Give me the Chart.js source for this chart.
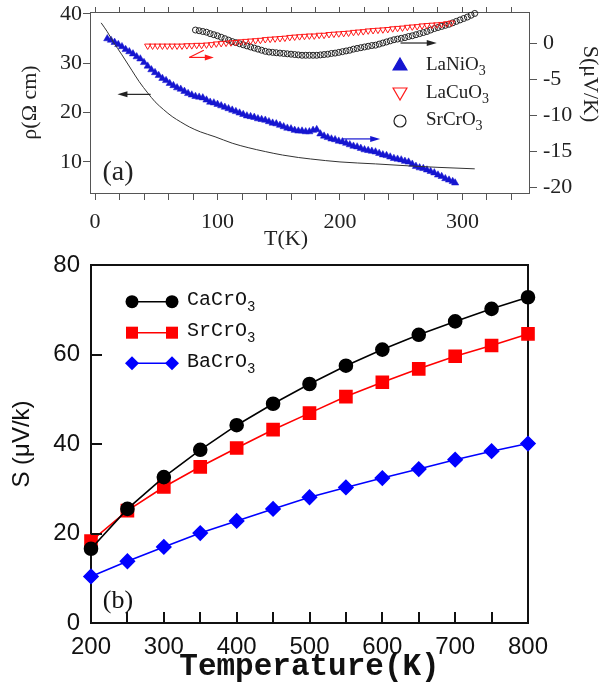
<!DOCTYPE html>
<html>
<head>
<meta charset="utf-8">
<script src="https://cdn.jsdelivr.net/npm/chart.js@4.4.1/dist/chart.umd.min.js"></script>
<style>
  html, body { margin: 0; padding: 0; background: #fff; }
  #wrap { position: relative; width: 603px; height: 686px; }
  #chartA { position: absolute; left: 0; top: 0; }
  #chartB { position: absolute; left: 0; top: 250px; }
</style>
</head>
<body>
<div id="wrap">
  <canvas id="chartA" width="603" height="250"></canvas>
  <canvas id="chartB" width="603" height="436"></canvas>
</div>
<script>
// ---- panel (a) data ----
const tRho = [5, 10, 15, 22, 30, 36, 43, 49, 56, 63, 70, 77, 86, 98, 112, 125, 139, 153, 166, 176, 200, 229, 256, 280, 310]
const rho = [38.2, 36.4, 34.3, 31.7, 28.6, 26.3, 24.0, 22.2, 20.6, 19.2, 18.1, 17.1, 16.1, 15.1, 13.8, 12.9, 12.1, 11.4, 10.9, 10.6, 10.0, 9.6, 9.2, 8.9, 8.6]

const tNi = [10, 13, 16, 19, 22, 25, 28, 31, 34, 37, 40, 43, 46, 49, 52, 55, 58, 61, 64, 67, 70, 73, 76, 79, 82, 85, 88, 91, 94, 97,
  100, 103, 106, 109, 112, 115, 118, 121, 124, 127, 130, 133, 136, 139, 142, 145, 148, 151, 154, 157, 160, 163, 166, 169, 172, 175, 178, 181, 184, 187,
  190, 193, 196, 199, 202, 205, 208, 211, 214, 217, 220, 223, 226, 229, 232, 235, 238, 241, 244, 247, 250, 253, 256, 259, 262, 265, 268, 271, 274, 277,
  280, 283, 286, 289, 292, 294]
const sNi = [0.6, 0.4, 0.1, -0.2, -0.5, -0.9, -1.2, -1.5, -1.9, -2.2, -2.7, -3.2, -3.7, -4.1, -4.5, -4.9, -5.2, -5.6, -5.9, -6.2, -6.4, -6.7, -7.0, -7.2, -7.4, -7.5, -7.6, -7.9, -8.2, -8.3,
  -8.5, -8.7, -8.9, -9.1, -9.3, -9.5, -9.7, -9.9, -10.1, -10.2, -10.3, -10.5, -10.6, -10.7, -10.9, -11.1, -11.2, -11.4, -11.6, -11.8, -11.9, -12.1, -12.2, -12.2, -12.3, -12.3, -12.1, -12.0, -12.6, -12.9,
  -13.1, -13.3, -13.4, -13.6, -13.7, -13.9, -14.1, -14.3, -14.4, -14.6, -14.8, -14.9, -15.0, -15.1, -15.3, -15.5, -15.6, -15.8, -16.0, -16.1, -16.2, -16.4, -16.5, -16.8, -17.1, -17.3, -17.4, -17.6, -17.8, -18.0,
  -18.3, -18.5, -18.8, -19.0, -19.2, -19.4]

const tCu = [43, 47, 51, 55, 59, 63, 67, 71, 75, 79, 83, 87, 91, 95, 99, 103, 107, 111, 115, 119, 123, 127, 131, 135, 139, 143, 147, 151, 155, 159,
  163, 167, 171, 175, 179, 183, 187, 191, 195, 199, 203, 207, 211, 215, 219, 223, 227, 231, 235, 239, 243, 247, 251, 255, 259, 263, 267, 271, 275, 279,
  283, 287, 291]
const sCu = [-0.4, -0.4, -0.4, -0.4, -0.4, -0.4, -0.4, -0.4, -0.35, -0.35, -0.3, -0.3, -0.25, -0.2, -0.1, -0.05, 0.0, 0.05, 0.1, 0.2, 0.25, 0.3, 0.35, 0.4, 0.5, 0.55, 0.6, 0.65, 0.7, 0.8,
  0.85, 0.9, 0.95, 1.0, 1.0, 1.1, 1.1, 1.2, 1.25, 1.3, 1.35, 1.4, 1.5, 1.55, 1.6, 1.7, 1.75, 1.8, 1.85, 1.9, 2.0, 2.05, 2.1, 2.2, 2.25, 2.3, 2.4, 2.45, 2.5, 2.55,
  2.6, 2.7, 2.8]

const tSr = [82, 85, 88, 91, 94, 97, 100, 103, 106, 109, 112, 115, 118, 121, 124, 127, 130, 133, 136, 139, 142, 145, 148, 151, 154, 157, 160, 163, 166, 169,
  172, 175, 178, 181, 184, 187, 190, 193, 196, 199, 202, 205, 208, 211, 214, 217, 220, 223, 226, 229, 232, 235, 238, 241, 244, 247, 250, 253, 256, 259,
  262, 265, 268, 271, 274, 277, 280, 283, 286, 289, 292, 295, 298, 301, 304, 307, 310]
const sSr = [1.8, 1.7, 1.6, 1.5, 1.3, 1.15, 1.0, 0.8, 0.6, 0.4, 0.2, 0.05, -0.1, -0.25, -0.4, -0.55, -0.7, -0.85, -1.0, -1.15, -1.25, -1.3, -1.35, -1.4, -1.45, -1.5, -1.55, -1.6, -1.65, -1.7,
  -1.7, -1.7, -1.7, -1.7, -1.65, -1.6, -1.55, -1.45, -1.4, -1.3, -1.2, -1.1, -1.0, -0.85, -0.75, -0.65, -0.55, -0.45, -0.35, -0.3, -0.15, 0.0, 0.15, 0.3, 0.45, 0.55, 0.65, 0.75, 0.9, 1.0,
  1.15, 1.3, 1.45, 1.6, 1.8, 2.0, 2.15, 2.3, 2.45, 2.6, 2.8, 3.0, 3.2, 3.4, 3.6, 3.85, 4.1]

// ---- panel (b) data ----
const tempB = [200, 250, 300, 350, 400, 450, 500, 550, 600, 650, 700, 750, 800]
const caCrO3 = [16.6, 25.5, 32.6, 38.7, 44.2, 49.0, 53.4, 57.5, 61.1, 64.4, 67.4, 70.2, 72.8]
const srCrO3 = [18.3, 25.1, 30.4, 34.9, 39.1, 43.2, 46.9, 50.6, 53.8, 56.8, 59.6, 62.0, 64.6]
const baCrO3 = [10.4, 13.8, 17.0, 20.1, 22.8, 25.5, 28.1, 30.3, 32.4, 34.4, 36.5, 38.4, 40.1]

const serif = '"Liberation Serif", "Times New Roman", serif'
const sans = '"Liberation Sans", Arial, sans-serif'
const mono = '"Liberation Mono", "Courier New", monospace'

const pts = (xs, ys) => xs.map((x, i) => ({ x: x, y: ys[i] }))

function marker(ctx, style, x, y, r, rot, fill, stroke, lw) {
  ctx.save()
  ctx.beginPath()
  if (style === 'circle') {
    ctx.arc(x, y, r, 0, Math.PI * 2)
  } else if (style === 'triangle') {
    const a = (rot || 0) * Math.PI / 180
    for (let k = 0; k < 3; k++) {
      const t = a + k * 2 * Math.PI / 3
      const px = x + Math.sin(t) * r, py = y - Math.cos(t) * r
      k ? ctx.lineTo(px, py) : ctx.moveTo(px, py)
    }
    ctx.closePath()
  } else if (style === 'rect') {
    const s = Math.SQRT1_2 * r
    ctx.rect(x - s, y - s, 2 * s, 2 * s)
  } else if (style === 'rectRot') {
    ctx.moveTo(x - r, y); ctx.lineTo(x, y - r); ctx.lineTo(x + r, y); ctx.lineTo(x, y + r)
    ctx.closePath()
  }
  ctx.fillStyle = fill
  ctx.fill()
  if (lw > 0) { ctx.lineWidth = lw; ctx.strokeStyle = stroke; ctx.stroke() }
  ctx.restore()
}

function chemText(ctx, text, x, y, font, subFont, dy) {
  const m = text.match(/^(.*?)(\d+)$/)
  ctx.font = font
  ctx.fillText(m[1], x, y)
  const w = ctx.measureText(m[1]).width
  ctx.font = subFont
  ctx.fillText(m[2], x + w, y + dy)
}

function arrow(ctx, x0, y0, x1, y1, color, head) {
  const ang = Math.atan2(y1 - y0, x1 - x0)
  ctx.save()
  ctx.strokeStyle = color
  ctx.fillStyle = color
  ctx.lineWidth = 1.2
  ctx.beginPath()
  ctx.moveTo(x0, y0)
  ctx.lineTo(x1 - Math.cos(ang) * head * 0.8, y1 - Math.sin(ang) * head * 0.8)
  ctx.stroke()
  if (head > 0) {
    ctx.beginPath()
    ctx.moveTo(x1, y1)
    ctx.lineTo(x1 - Math.cos(ang) * head + Math.sin(ang) * 3, y1 - Math.sin(ang) * head - Math.cos(ang) * 3)
    ctx.lineTo(x1 - Math.cos(ang) * head - Math.sin(ang) * 3, y1 - Math.sin(ang) * head + Math.cos(ang) * 3)
    ctx.closePath()
    ctx.fill()
  }
  ctx.restore()
}

// arrows of panel (a), in data units
const arrowsA = [
  { axis: 'y', from: [45.4, 23.7], to: [18.3, 23.7], color: '#222', head: 10 },
  { axis: 'y2', from: [76.9, -2.0], to: [88.8, -1.0], color: '#ff1a1a', head: 0 },
  { axis: 'y2', from: [76.9, -2.0], to: [97, -2.0], color: '#ff1a1a', head: 9 },
  { axis: 'y2', from: [249.4, 0], to: [279, 0], color: '#222', head: 10 },
  { axis: 'y2', from: [201.5, -13.3], to: [232.8, -13.3], color: '#1515d0', head: 10 }
]

const panelAExtras = {
  id: 'panelAExtras',
  afterDraw(chart) {
    const ctx = chart.ctx
    const sx = chart.scales.x
    arrowsA.forEach(a => {
      const sy = chart.scales[a.axis]
      arrow(ctx, sx.getPixelForValue(a.from[0]), sy.getPixelForValue(a.from[1]),
        sx.getPixelForValue(a.to[0]), sy.getPixelForValue(a.to[1]), a.color, a.head)
    })
    // legend
    const rows = [65, 93, 120]
    chart.data.datasets.slice(1).forEach((ds, i) => {
      const fill = ds.backgroundColor
      marker(ctx, ds.pointStyle, 400, rows[i] + (ds.rotation ? -1 : 1), ds.pointStyle === 'circle' ? 6 : 8,
        ds.rotation || 0, fill, ds.borderColor, 1.2)
      ctx.fillStyle = '#222'
      ctx.textBaseline = 'middle'
      ctx.textAlign = 'left'
      chemText(ctx, ds.label, 426, rows[i], '19px ' + serif, '14px ' + serif, 6)
    })
    ctx.fillStyle = '#222'
    ctx.textAlign = 'center'
    ctx.textBaseline = 'middle'
    ctx.font = '28px ' + serif
    ctx.fillText('(a)', 118, 173)
    // axis titles placed as in the original figure
    ctx.font = '22px ' + serif
    ctx.fillText('T(K)', 286, 239)
    ctx.save()
    ctx.translate(590, 84)
    ctx.rotate(Math.PI / 2)
    ctx.fillText('S(μV/K)', 0, 0)
    ctx.restore()
  }
}

const panelBExtras = {
  id: 'panelBExtras',
  afterDraw(chart) {
    const ctx = chart.ctx, area = chart.chartArea
    const sx = chart.scales.x, sy = chart.scales.y
    // inward tick marks
    ctx.save()
    ctx.strokeStyle = '#111'
    ctx.lineWidth = 2
    ctx.beginPath()
    sx.ticks.forEach(t => {
      const px = Math.round(sx.getPixelForValue(t.value))
      ctx.moveTo(px, area.bottom); ctx.lineTo(px, area.bottom - 11)
    })
    sy.ticks.forEach(t => {
      const py = Math.round(sy.getPixelForValue(t.value))
      ctx.moveTo(area.left, py); ctx.lineTo(area.left + 11, py)
    })
    ctx.stroke()
    ctx.restore()
    // legend
    const rows = [51.7, 82.7, 113.3]
    chart.data.datasets.forEach((ds, i) => {
      ctx.save()
      ctx.strokeStyle = ds.borderColor
      ctx.lineWidth = ds.borderWidth
      ctx.beginPath(); ctx.moveTo(132, rows[i]); ctx.lineTo(172, rows[i]); ctx.stroke()
      ctx.restore()
      marker(ctx, ds.pointStyle, 132, rows[i], ds.pointRadius, 0, ds.backgroundColor, ds.borderColor, 0)
      marker(ctx, ds.pointStyle, 172, rows[i], ds.pointRadius, 0, ds.backgroundColor, ds.borderColor, 0)
      ctx.fillStyle = '#111'
      ctx.textBaseline = 'middle'
      ctx.textAlign = 'left'
      chemText(ctx, ds.label, 187, rows[i] - 2, '20px ' + mono, '14px ' + mono, 8)
    })
    ctx.font = '26px ' + serif
    ctx.fillStyle = '#111'
    ctx.textAlign = 'center'
    ctx.textBaseline = 'middle'
    ctx.fillText('(b)', 118, 351)
  }
}

const fixSize = (w, h) => s => {
  if (w != null) s.width = w
  if (h != null) s.height = h
  s.paddingLeft = 0; s.paddingRight = 0; s.paddingTop = 0; s.paddingBottom = 0
}

// ---- panel (a) ----
new Chart(document.getElementById('chartA'), {
  type: 'scatter',
  data: {
    datasets: [
      {
        label: 'rho', data: pts(tRho, rho), yAxisID: 'y', showLine: true, pointRadius: 0,
        borderColor: '#333', borderWidth: 1, cubicInterpolationMode: 'monotone', clip: false
      },
      {
        label: 'LaNiO3', data: pts(tNi, sNi), yAxisID: 'y2', pointStyle: 'triangle', pointRadius: 4.2,
        backgroundColor: '#1515d0', borderColor: '#1515d0', borderWidth: 0.5, clip: false
      },
      {
        label: 'LaCuO3', data: pts(tCu, sCu), yAxisID: 'y2', pointStyle: 'triangle', rotation: 180, pointRadius: 3.6,
        backgroundColor: 'rgba(0,0,0,0)', borderColor: '#ff1a1a', borderWidth: 1, clip: false
      },
      {
        label: 'SrCrO3', data: pts(tSr, sSr), yAxisID: 'y2', pointStyle: 'circle', pointRadius: 3,
        backgroundColor: 'rgba(0,0,0,0)', borderColor: '#222', borderWidth: 1, clip: false
      }
    ]
  },
  options: {
    responsive: false,
    animation: false,
    events: [],
    layout: { padding: 0 },
    plugins: { legend: { display: false }, tooltip: { enabled: false } },
    scales: {
      x: {
        type: 'linear', position: 'bottom', min: -4.1, max: 354.3,
        ticks: {
          stepSize: 20, includeBounds: false, autoSkip: false, maxRotation: 0, padding: 9,
          color: '#222', font: { family: serif, size: 22 },
          callback: v => (v % 100 === 0 ? v : '')
        },
        grid: { drawOnChartArea: false, tickLength: 7, color: '#555' },
        border: { color: '#555', width: 1 },
        afterFit: fixSize(null, 57)
      },
      x2: {
        type: 'linear', position: 'top', min: -4.1, max: 354.3,
        ticks: { display: false, stepSize: 20, includeBounds: false, autoSkip: false },
        grid: { drawOnChartArea: false, tickLength: 5, color: '#555' },
        border: { color: '#555', width: 1 },
        afterFit: fixSize(null, 12)
      },
      y: {
        type: 'linear', position: 'left', min: 3.7, max: 40.4,
        ticks: { stepSize: 10, includeBounds: false, padding: 1, color: '#222', font: { family: serif, size: 22 } },
        grid: { drawOnChartArea: false, tickLength: 7, color: '#555' },
        border: { color: '#555', width: 1 },
        title: { display: true, text: 'ρ(Ω cm)', color: '#222', font: { family: serif, size: 22 }, padding: { top: 17, bottom: 0 } },
        afterFit: fixSize(90, null)
      },
      y2: {
        type: 'linear', position: 'right', min: -20.8, max: 4.3,
        ticks: { stepSize: 5, includeBounds: false, padding: 6, color: '#222', font: { family: serif, size: 22 } },
        grid: { drawOnChartArea: false, tickLength: 8, color: '#555' },
        border: { color: '#555', width: 1 },
        afterFit: fixSize(74, null)
      }
    }
  },
  plugins: [panelAExtras]
})

// ---- panel (b) ----
new Chart(document.getElementById('chartB'), {
  type: 'scatter',
  data: {
    datasets: [
      {
        label: 'CaCrO3', data: pts(tempB, caCrO3), showLine: true, pointStyle: 'circle', pointRadius: 6.5,
        backgroundColor: '#000', borderColor: '#000', borderWidth: 1.6, clip: false
      },
      {
        label: 'SrCrO3', data: pts(tempB, srCrO3), showLine: true, pointStyle: 'rect', pointRadius: 8.5,
        backgroundColor: '#ff0000', borderColor: '#ff0000', borderWidth: 1.6, clip: false
      },
      {
        label: 'BaCrO3', data: pts(tempB, baCrO3), showLine: true, pointStyle: 'rectRot', pointRadius: 7,
        backgroundColor: '#0000ff', borderColor: '#0000ff', borderWidth: 1.6, clip: false
      }
    ]
  },
  options: {
    responsive: false,
    animation: false,
    events: [],
    layout: { padding: 0 },
    elements: { point: { borderWidth: 0 } },
    plugins: { legend: { display: false }, tooltip: { enabled: false } },
    scales: {
      x: {
        type: 'linear', position: 'bottom', min: 200, max: 800,
        ticks: {
          stepSize: 50, autoSkip: false, maxRotation: 0, padding: 10,
          color: '#111', font: { family: sans, size: 24 },
          callback: v => (v % 100 === 0 ? v : '')
        },
        grid: { drawOnChartArea: false, drawTicks: false },
        border: { color: '#111', width: 2 },
        title: { display: true, text: 'Temperature(K)', color: '#111', font: { family: mono, size: 31, weight: 'bold' }, padding: { top: 0, bottom: 0 } },
        afterFit: fixSize(null, 63)
      },
      x2: {
        type: 'linear', position: 'top', min: 200, max: 800,
        ticks: { display: false },
        grid: { drawOnChartArea: false, drawTicks: false },
        border: { color: '#111', width: 2 },
        afterFit: fixSize(null, 15)
      },
      y: {
        type: 'linear', position: 'left', min: 0, max: 80,
        ticks: { stepSize: 20, padding: 11, color: '#111', font: { family: sans, size: 24 } },
        grid: { drawOnChartArea: false, drawTicks: false },
        border: { color: '#111', width: 2 },
        title: { display: true, text: 'S (μV/k)', color: '#111', font: { family: sans, size: 24 }, padding: { top: 8, bottom: 0 } },
        afterFit: fixSize(91, null)
      },
      y2: {
        type: 'linear', position: 'right', min: 0, max: 80,
        ticks: { display: false },
        grid: { drawOnChartArea: false, drawTicks: false },
        border: { color: '#111', width: 2 },
        afterFit: fixSize(75, null)
      }
    }
  },
  plugins: [panelBExtras]
})
</script>
</body>
</html>
